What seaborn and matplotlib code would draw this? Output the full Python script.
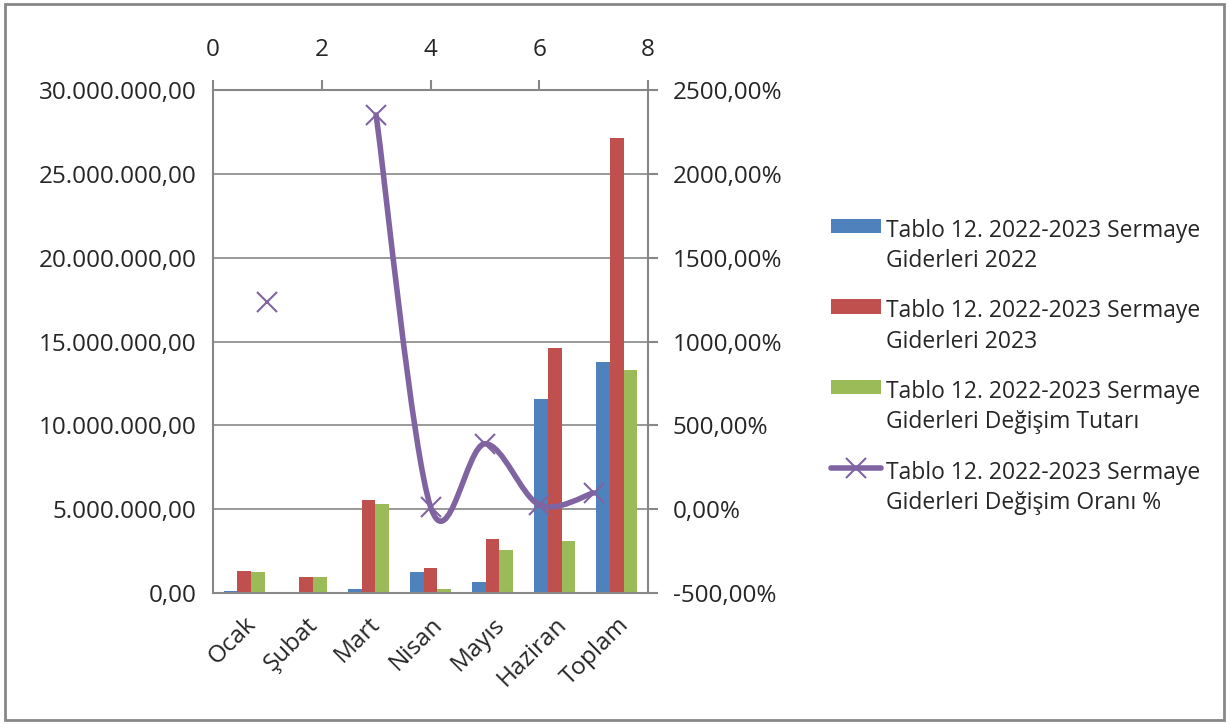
import matplotlib
matplotlib.use("Agg")
import matplotlib.pyplot as plt
import numpy as np
import pandas as pd
import seaborn as sns
from matplotlib.path import Path
from matplotlib.patches import PathPatch, Rectangle, Patch
from matplotlib.lines import Line2D
from matplotlib.ticker import FuncFormatter, FixedLocator

# veriler
aylar = ["Ocak", "Şubat", "Mart", "Nisan", "Mayıs", "Haziran", "Toplam"]
gider_2022 = [0.10e6, 0.0, 0.22e6, 1.28e6, 0.64e6, 11.58e6, 13.80e6]
gider_2023 = [1.34e6, 0.94e6, 5.54e6, 1.50e6, 3.20e6, 14.62e6, 27.15e6]
degisim_tutari = [1.23e6, 0.94e6, 5.30e6, 0.22e6, 2.56e6, 3.08e6, 13.33e6]
oran_x = [1, 2, 3, 4, 5, 6, 7]
degisim_orani = [1236.0, np.nan, 2351.0, 15.0, 390.0, 26.0, 97.0]

seri_adlari = [
    "Tablo 12. 2022-2023 Sermaye\nGiderleri 2022",
    "Tablo 12. 2022-2023 Sermaye\nGiderleri 2023",
    "Tablo 12. 2022-2023 Sermaye\nGiderleri Değişim Tutarı",
]
cizgi_adi = "Tablo 12. 2022-2023 Sermaye\nGiderleri Değişim Oranı %"
renkler = ["#4F81BD", "#C0504D", "#9BBB59"]
mor = "#8064A2"
gri = "#878787"

sns.set_style("white")
plt.rcParams["font.family"] = ["Open Sans", "DejaVu Sans"]
plt.rcParams["font.size"] = 17.5

df = pd.DataFrame({
    "ay": aylar * 3,
    "seri": [seri_adlari[0]] * 7 + [seri_adlari[1]] * 7 + [seri_adlari[2]] * 7,
    "deger": gider_2022 + gider_2023 + degisim_tutari,
})

fig = plt.figure(figsize=(12.29, 7.24), dpi=100)
ax = fig.add_axes([213 / 1229, 1 - 593 / 724, 435 / 1229, 503 / 724])

sns.barplot(data=df, x="ay", y="deger", hue="seri", hue_order=seri_adlari,
            palette=renkler, width=0.66, saturation=1, ax=ax, legend=False,
            edgecolor="none")

ax.set_xlim(-0.5, 6.5)
ax.set_ylim(0, 30e6)
ax.set_yticks(np.arange(0, 30e6 + 1, 5e6))
ax.yaxis.set_major_formatter(FuncFormatter(
    lambda v, p: f"{v:,.2f}".replace(",", "X").replace(".", ",").replace("X", ".")))
ax.yaxis.grid(True, color=gri, linewidth=1.2)
ax.set_axisbelow(True)
ax.set_xlabel("")
ax.set_ylabel("")
ax.xaxis.set_minor_locator(FixedLocator(np.arange(-0.5, 7, 1)))
ax.tick_params(axis="x", which="major", length=0, pad=14)
ax.tick_params(axis="x", which="minor", length=7, width=1.5, color=gri, direction="out")
ax.tick_params(axis="y", length=7, width=1.5, color=gri, direction="out", pad=5)
plt.setp(ax.get_xticklabels(), rotation=45, ha="right", rotation_mode="anchor")
for s in ax.spines.values():
    s.set_color(gri)
    s.set_linewidth(1.5)

# ikincil eksen (üst x, sağ y)
ax2 = fig.add_axes(ax.get_position(), frameon=False)
ax2.patch.set_visible(False)
ax2.set_xlim(0, 8)
ax2.set_ylim(-500, 2500)
ax2.set_xticks([0, 2, 4, 6, 8])
ax2.set_yticks(np.arange(-500, 2501, 500))
ax2.xaxis.tick_top()
ax2.yaxis.tick_right()
ax2.yaxis.set_major_formatter(FuncFormatter(lambda v, p: f"{v:.2f}%".replace(".", ",")))
ax2.tick_params(axis="both", length=7, width=1.5, color=gri, direction="out")
ax2.tick_params(axis="y", pad=11)
ax2.tick_params(axis="x", pad=13)

# yumuşatılmış çizgi (Excel tarzı)
xs = np.array(oran_x, dtype=float)
ys = np.array(degisim_orani, dtype=float)
gecerli = ~np.isnan(ys)
parca = []
parcalar = []
for i in range(len(xs)):
    if gecerli[i]:
        parca.append((xs[i], ys[i]))
    else:
        if parca:
            parcalar.append(parca)
        parca = []
if parca:
    parcalar.append(parca)

for p in parcalar:
    if len(p) < 2:
        continue
    pts = np.array(p)
    verts = [pts[0]]
    codes = [Path.MOVETO]
    n = len(pts)
    for i in range(n - 1):
        p0 = pts[i - 1] if i > 0 else pts[i]
        p1 = pts[i]
        p2 = pts[i + 1]
        p3 = pts[i + 2] if i + 2 < n else pts[i + 1]
        c1 = p1 + (p2 - p0) / 6
        c2 = p2 - (p3 - p1) / 6
        verts += [c1, c2, p2]
        codes += [Path.CURVE4] * 3
    ax2.add_patch(PathPatch(Path(verts, codes), facecolor="none",
                            edgecolor=mor, linewidth=4, capstyle="round", zorder=3))

ax2.plot(xs, ys, linestyle="none", marker="x", markersize=14,
         markeredgewidth=1.5, color=mor, zorder=4)

# lejant
tutamaklar = [Patch(facecolor=c, edgecolor="none") for c in renkler]
tutamaklar.append(Line2D([], [], color=mor, linewidth=4, marker="x",
                         markersize=14, markeredgewidth=1.5))
leg = fig.legend(tutamaklar, seri_adlari + [cizgi_adi], loc="upper left",
                 bbox_to_anchor=(810 / 1229, 1 - 198 / 724), frameon=False,
                 handlelength=2.2, handleheight=0.6, handletextpad=0.2,
                 labelspacing=1.15, fontsize=16.5)
for t in leg.get_texts():
    t.set_linespacing(1.35)
# simgeleri ilk satıra hizala
try:
    for sutun in leg._legend_handle_box.get_children():
        for satir in sutun.get_children():
            satir.align = "top"
except Exception:
    pass

# dış çerçeve
fig.patches.append(Rectangle((5 / 1229, 4 / 724), 1 - 10 / 1229, 1 - 8 / 724,
                             transform=fig.transFigure, fill=False,
                             edgecolor=gri, linewidth=2))

fig.savefig("out.png", dpi=100)
